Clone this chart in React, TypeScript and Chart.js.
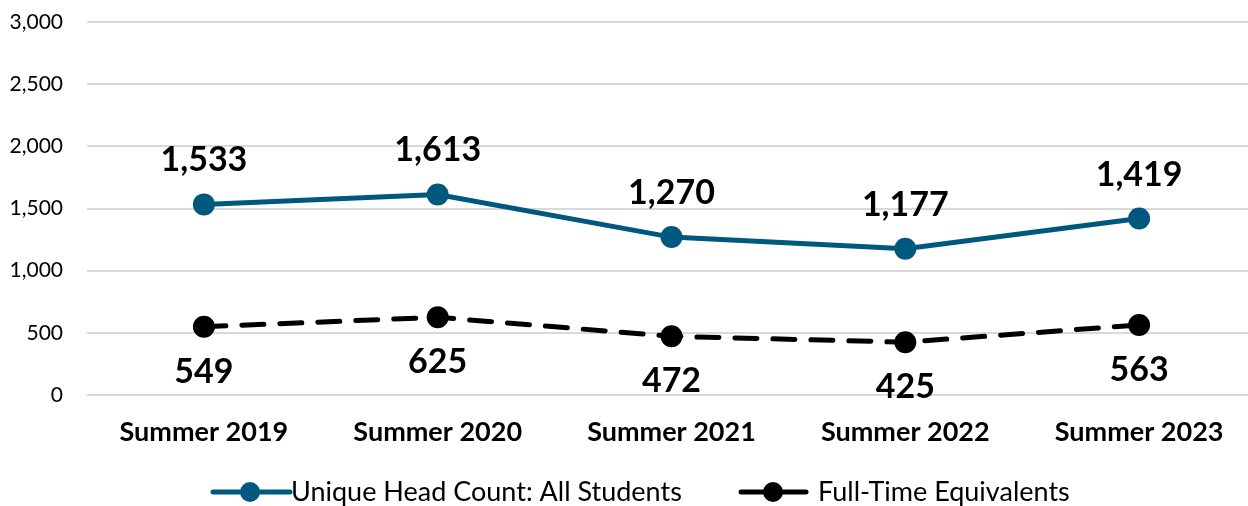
import React, { useEffect, useRef } from "react";
import { Chart, registerables } from "chart.js";

Chart.register(...registerables);

const categories = ["Summer 2019", "Summer 2020", "Summer 2021", "Summer 2022", "Summer 2023"];
const headCount = [1533, 1613, 1270, 1177, 1419];
const fte = [549, 625, 472, 425, 563];
const seriesNames = ["Unique Head Count: All Students", "Full-Time Equivalents"];
const yTicks = [0, 500, 1000, 1500, 2000, 2500, 3000];

const BLUE = "#00587F";
const BLACK = "#000000";
const FONT = "Lato, 'Open Sans', sans-serif";
const W = 1267;

const fmt = (v: number) => v.toLocaleString("en-US");

const labelPlugin = {
  id: "customLabels",
  afterDatasetsDraw(chart: any) {
    const ctx = chart.ctx;
    ctx.save();
    ctx.font = `bold 34px ${FONT}`;
    ctx.fillStyle = "#000";
    ctx.textAlign = "center";
    ctx.textBaseline = "middle";
    chart.data.datasets.forEach((ds: any, di: number) => {
      const meta = chart.getDatasetMeta(di);
      meta.data.forEach((pt: any, i: number) => {
        const off = di === 0 ? -44 : 45;
        ctx.fillText(fmt(ds.data[i]), pt.x, pt.y + off);
      });
    });
    ctx.restore();
  },
  afterDraw(chart: any) {
    const ctx = chart.ctx;
    ctx.save();
    const y = 492;
    const items = [
      { x0: 213, x1: 290, mx: 250, color: BLUE, text: seriesNames[0], tx: 291 },
      { x0: 741, x1: 806, mx: 773, color: BLACK, text: seriesNames[1], tx: 818 },
    ];
    items.forEach((it) => {
      ctx.strokeStyle = it.color;
      ctx.lineWidth = 5;
      ctx.lineCap = "round";
      ctx.beginPath();
      ctx.moveTo(it.x0, y);
      ctx.lineTo(it.x1, y);
      ctx.stroke();
      ctx.fillStyle = it.color;
      ctx.beginPath();
      ctx.arc(it.mx, y, 10, 0, Math.PI * 2);
      ctx.fill();
      ctx.fillStyle = "#000";
      ctx.font = `27px ${FONT}`;
      ctx.textAlign = "left";
      ctx.textBaseline = "middle";
      ctx.fillText(it.text, it.tx, y);
    });
    ctx.restore();
  },
};

export default function App() {
  const ref = useRef<HTMLCanvasElement | null>(null);
  useEffect(() => {
    document.body.style.margin = "0";
    document.body.style.overflow = "hidden";
    const chart = new Chart(ref.current as HTMLCanvasElement, {
      type: "line",
      data: {
        labels: categories,
        datasets: [
          {
            label: seriesNames[0],
            data: headCount,
            borderColor: BLUE,
            backgroundColor: BLUE,
            borderWidth: 5,
            pointRadius: 11,
            pointHoverRadius: 11,
            pointBackgroundColor: BLUE,
            pointBorderWidth: 0,
            tension: 0,
          },
          {
            label: seriesNames[1],
            data: fte,
            borderColor: BLACK,
            backgroundColor: BLACK,
            borderWidth: 5,
            borderDash: [22, 16],
            borderCapStyle: "round",
            pointRadius: 11,
            pointHoverRadius: 11,
            pointBackgroundColor: BLACK,
            pointBorderWidth: 0,
            tension: 0,
          },
        ],
      },
      options: {
        animation: false,
        responsive: false,
        maintainAspectRatio: false,
        layout: { padding: { top: 22, bottom: 51, left: 0, right: 1 } },
        plugins: { legend: { display: false }, tooltip: { enabled: false } },
        scales: {
          x: {
            offset: true,
            grid: { display: false, drawTicks: false },
            border: { display: false },
            ticks: { font: { family: FONT, size: 27, weight: "bold" }, color: "#000", padding: 21, maxRotation: 0 },
            afterFit: (s: any) => {
              s.height = 60;
              s.paddingLeft = 0;
              s.paddingRight = 0;
            },
          },
          y: {
            min: 0,
            max: 3000,
            afterBuildTicks: (s: any) => { s.ticks = yTicks.map((v) => ({ value: v })); },
            grid: { color: "#D9D9D9", lineWidth: 2, drawTicks: false },
            border: { display: false },
            ticks: {
              font: { family: FONT, size: 21 },
              color: "#000",
              padding: 24,
              callback: (v: any) => fmt(Number(v)),
            },
            afterFit: (s: any) => {
              s.width = 87;
              s.paddingTop = 0;
              s.paddingBottom = 0;
            },
          },
        },
      },
      plugins: [labelPlugin],
    } as any);
    return () => chart.destroy();
  }, []);
  return (
    <div style={{ width: W, height: 506 }}>
      <canvas ref={ref} width={W} height={506} style={{ display: "block", width: W, height: 506 }} />
    </div>
  );
}
